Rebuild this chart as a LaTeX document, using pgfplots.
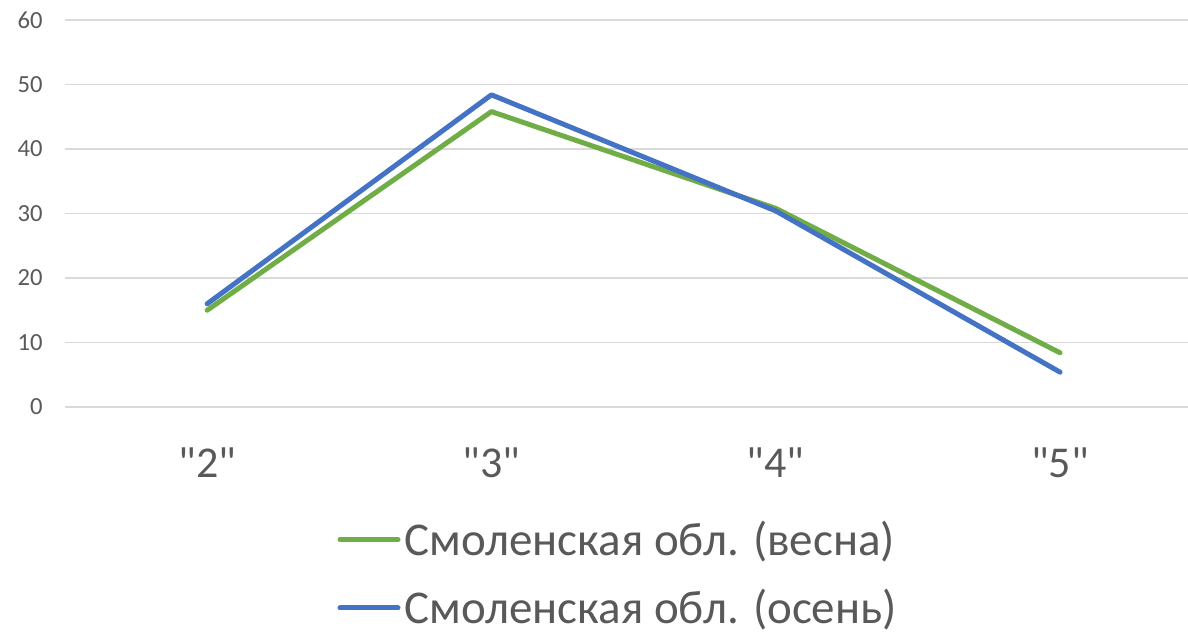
\documentclass[border=0pt]{standalone}
\usepackage{pgfplots}
\pgfplotsset{compat=1.18}
\usepackage{fontspec}
\setmainfont{Carlito}[Ligatures=TeXOff]
\definecolor{cgreen}{HTML}{70AD47}
\definecolor{cblue}{HTML}{4472C4}
\definecolor{cgrid}{HTML}{D9D9D9}
\definecolor{ctext}{HTML}{595959}
\begin{document}
\begin{tikzpicture}
\begin{axis}[
  at={(0pt,0pt)}, anchor=south west,
  scale only axis, width=561.5pt, height=193.5pt,
  xmin=-0.5, xmax=3.45, ymin=0, ymax=60,
  xtick={0,1,2,3}, xticklabels={"2","3","4","5"},
  ytick={0,10,...,60},
  axis line style={draw=none},
  major tick length=0pt,
  ymajorgrids, grid style={cgrid, line width=0.75pt},
  /pgf/number format/assume math mode=true,
  yticklabel style={font=\fontsize{12.3}{14}\selectfont, text=ctext, inner sep=0pt, anchor=east, xshift=-11pt},
  xticklabel style={font=\fontsize{22}{26}\selectfont, text=ctext, inner sep=0pt, anchor=north, yshift=-20pt},
  legend style={draw=none, fill=none, at={(0.4935,-0.283)}, anchor=north, legend cell align=left,
    font=\fontsize{23.5}{28}\selectfont, text=ctext, row sep=11.5pt, inner sep=0pt,
    /tikz/every even column/.append style={column sep=0pt}},
  legend image code/.code={\draw[#1, line cap=round] (0pt,0pt) -- (29pt,0pt);},
  clip=false,
]
\addplot[cgreen, line width=2.5pt, line cap=round, line join=round] coordinates {(0,15.0) (1,45.8) (2,30.8) (3,8.4)};
\addlegendentry{Смоленская обл. (весна)}
\addplot[cblue, line width=2.5pt, line cap=round, line join=round] coordinates {(0,16.0) (1,48.4) (2,30.4) (3,5.4)};
\addlegendentry{Смоленская обл. (осень)}
\end{axis}
\pgfresetboundingbox
\path (-32.5pt,-115.5pt) rectangle (561.5pt,203.5pt);
\end{tikzpicture}
\end{document}
